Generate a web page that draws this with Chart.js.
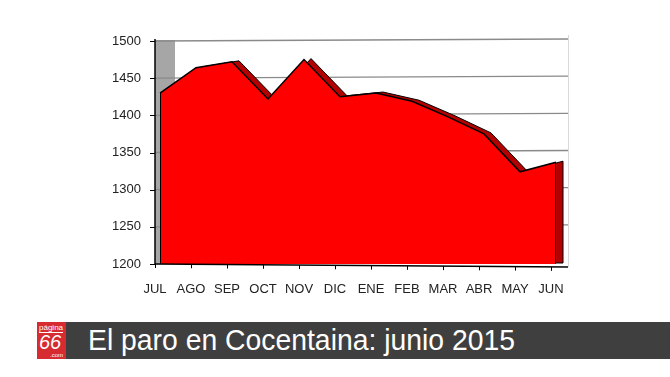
<!DOCTYPE html>
<html>
<head>
<meta charset="utf-8">
<script src="https://cdn.jsdelivr.net/npm/chart.js@4"></script>
<style>
  body { margin: 0; background: #fff; width: 670px; height: 377px; overflow: hidden; position: relative; font-family: "Liberation Sans", Arial, sans-serif; }
  #wrap { position: absolute; left: 0; top: 0; width: 670px; height: 305px; }
  #banner { position: absolute; left: 37px; top: 322px; width: 633px; height: 37px; background: #3f3f3f; }
  #logo { position: absolute; left: 37px; top: 322px; width: 29px; height: 37px; background: #d62b30; color: #fff; overflow: hidden; }
  #logo .pg { position: absolute; left: 2px; top: 1px; font-size: 8px; line-height: 9px; border-bottom: 1px solid #fff; }
  #logo .n66 { position: absolute; left: 2px; top: 10px; font-size: 20px; line-height: 20px; font-style: italic; }
  #logo .com { position: absolute; right: 3px; bottom: 1px; font-size: 6px; line-height: 6px; }
  #title { position: absolute; left: 88px; top: 325px; font-size: 30px; line-height: 30px; color: #fff; white-space: nowrap; transform-origin: 0 0; }
</style>
</head>
<body>
<div id="wrap"><canvas id="paroChart"></canvas></div>
<div id="banner"></div>
<div id="logo"><div class="pg">página</div><div class="n66">66</div><div class="com">.com</div></div>
<div id="title">El paro en Cocentaina: junio 2015</div>
<script>
const months = ["JUL", "AGO", "SEP", "OCT", "NOV", "DIC", "ENE", "FEB", "MAR", "ABR", "MAY", "JUN"];
const parados = [1430, 1464, 1472, 1422, 1475, 1425, 1430, 1419, 1398, 1375, 1324, 1337];
const yTicks = [1200, 1250, 1300, 1350, 1400, 1450, 1500];

// fit the banner title to its width in the picture
const title = document.getElementById("title");
title.style.transform = "scaleX(" + (427 / title.scrollWidth) + ")";

const dx = 7, dy = -1; // fake 3D depth

function line(ctx, x1, y1, x2, y2) {
    ctx.beginPath();
    ctx.moveTo(x1, y1);
    ctx.lineTo(x2, y2);
    ctx.stroke();
}

const scenery = {
    id: "scenery",
    beforeDatasetsDraw(chart) {
        const { ctx, chartArea: a, scales: { y } } = chart;
        const left = a.left - 5, right = a.right + 12;
        ctx.save();

        // side wall
        ctx.fillStyle = "#a6a6a6";
        ctx.fillRect(left, a.top - 1, 20, a.bottom - a.top + 1);

        // right edge of back wall
        ctx.strokeStyle = "#d9d9d9";
        ctx.lineWidth = 1;
        line(ctx, right + 0.5, a.top - 6, right + 0.5, a.bottom + 3);

        // gridlines
        ctx.strokeStyle = "#8a8a8a";
        ctx.lineWidth = 1.3;
        yTicks.slice(1).forEach(v => {
            const py = y.getPixelForValue(v);
            line(ctx, left, py, right, py - 2);
        });

        // back edge of the area
        const pts = chart.getDatasetMeta(0).data;
        const last = pts[pts.length - 1];
        ctx.beginPath();
        ctx.moveTo(pts[0].x + dx, a.bottom + dy);
        pts.forEach(p => ctx.lineTo(p.x + dx, p.y + dy));
        ctx.lineTo(last.x + dx, a.bottom + dy);
        ctx.closePath();
        ctx.fillStyle = "#b30000";
        ctx.fill();
        ctx.strokeStyle = "#000";
        ctx.lineWidth = 1;
        ctx.stroke();
        ctx.restore();
    },
    afterDatasetsDraw(chart) {
        const { ctx, chartArea: a, scales: { x, y } } = chart;
        const left = a.left - 5, right = a.right + 12;
        const pts = chart.getDatasetMeta(0).data;
        const last = pts[pts.length - 1];
        ctx.save();
        ctx.strokeStyle = "#000";

        // front face edges
        ctx.lineWidth = 1;
        line(ctx, pts[0].x + 0.5, pts[0].y, pts[0].x + 0.5, a.bottom);
        line(ctx, last.x - 0.5, last.y, last.x - 0.5, a.bottom);

        // axes
        ctx.lineWidth = 1.5;
        line(ctx, left, a.top - 2, left, a.bottom + 1);
        line(ctx, left, a.bottom, right, a.bottom + 3);

        // y tick marks
        ctx.lineWidth = 1;
        yTicks.forEach(v => {
            const py = Math.round(y.getPixelForValue(v)) + 0.5;
            line(ctx, left - 5, py, left, py);
        });

        // x tick marks
        months.forEach((m, i) => {
            const px = Math.round(x.getPixelForValue(i) - 5) + 0.5;
            const py = a.bottom + 3 * (px - left) / (right - left);
            line(ctx, px, py, px, py + 4);
        });
        ctx.restore();
    }
};

const tickFont = { family: "'Liberation Sans', Arial, sans-serif", size: 13 };

new Chart(document.getElementById("paroChart"), {
    type: "line",
    data: {
        labels: months,
        datasets: [{
            data: parados,
            fill: "start",
            backgroundColor: "#ff0000",
            borderColor: "#000",
            borderWidth: 1.5,
            pointRadius: 0,
            tension: 0
        }]
    },
    options: {
        responsive: true,
        maintainAspectRatio: false,
        animation: false,
        layout: { padding: { top: 41, right: 114, bottom: 0, left: 0 } },
        plugins: {
            legend: { display: false },
            tooltip: { enabled: false }
        },
        scales: {
            x: {
                offset: false,
                grid: { display: false },
                border: { display: false },
                ticks: {
                    color: "#222",
                    font: tickFont,
                    labelOffset: -5,
                    padding: 10,
                    maxRotation: 0,
                    autoSkip: false
                },
                afterFit(s) { s.height = 41; }
            },
            y: {
                min: yTicks[0],
                max: yTicks[yTicks.length - 1],
                grid: { display: false },
                border: { display: false },
                ticks: {
                    stepSize: yTicks[1] - yTicks[0],
                    color: "#222",
                    font: tickFont,
                    padding: 11,
                    callback: v => String(v)
                },
                afterFit(s) { s.width = 160; }
            }
        }
    },
    plugins: [scenery]
});
</script>
</body>
</html>
